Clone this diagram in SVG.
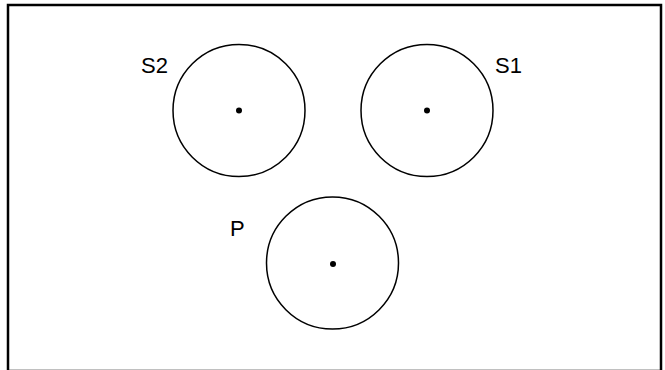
<svg xmlns="http://www.w3.org/2000/svg" width="665" height="370" viewBox="0 0 665 370">
<style>
.c{fill:none;stroke:#000;stroke-width:1.5}
.d{fill:#000}
.t{font-family:"Liberation Sans",Arial,sans-serif;font-size:22px;fill:#000}
</style>
<rect x="8" y="5" width="653" height="366" fill="#fff" stroke="#000" stroke-width="2.5"/>
<g id="S2">
<circle class="c" cx="239" cy="110.5" r="66"/>
<circle class="d" cx="239" cy="110.5" r="3"/>
<text class="t" x="141" y="73">S2</text>
</g>
<g id="S1">
<circle class="c" cx="427" cy="110.5" r="66"/>
<circle class="d" cx="427" cy="110.5" r="3"/>
<text class="t" x="495" y="73">S1</text>
</g>
<g id="P">
<circle class="c" cx="332.5" cy="263" r="66"/>
<circle class="d" cx="333" cy="264" r="3"/>
<text class="t" x="230" y="236">P</text>
</g>
<g id="connectors"></g>
</svg>
